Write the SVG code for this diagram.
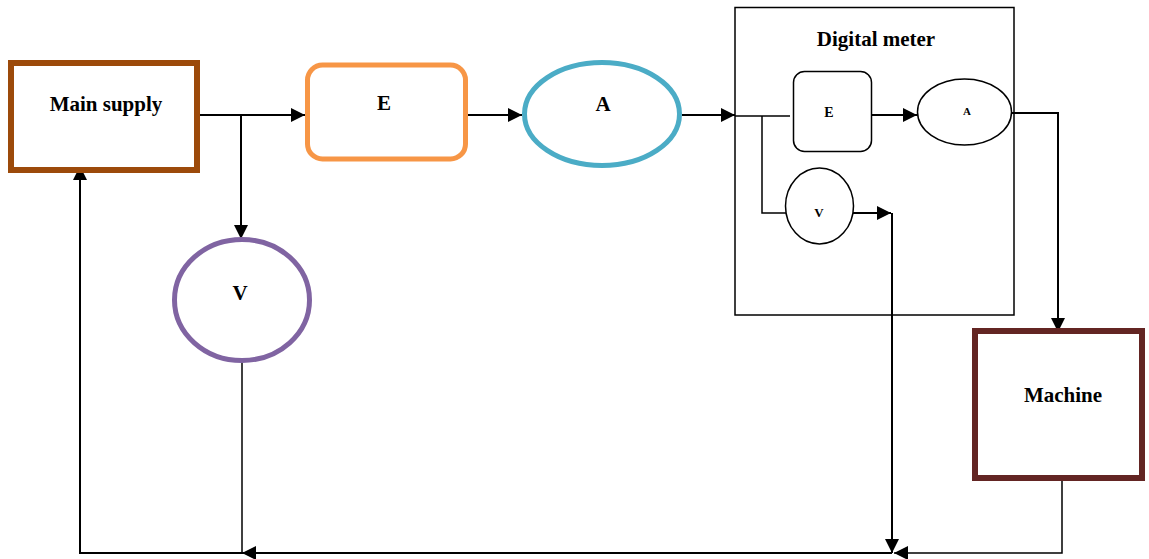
<svg xmlns="http://www.w3.org/2000/svg" width="1149" height="559" viewBox="0 0 1149 559">
<defs>
<marker id="ah" viewBox="0 0 10 10" refX="10" refY="5" markerWidth="14" markerHeight="14" markerUnits="userSpaceOnUse" orient="auto">
<path d="M0,0 L10,5 L0,10 Z" fill="#000"/>
</marker>
</defs>
<style>
text{font-family:"Liberation Serif","Times New Roman",serif;font-weight:bold;fill:#000;text-anchor:middle}
.c{fill:none;stroke:#000;stroke-width:2}
.t{fill:none;stroke:#000;stroke-width:1.5}
.a{marker-end:url(#ah)}
</style>
<rect width="1149" height="559" fill="#fff"/>
<g id="connectors">
<path class="c a" d="M197,115 H305"/>
<path class="c a" d="M241,115 V239"/>
<path class="c a" d="M466,115 H522"/>
<path class="c a" d="M682,115 H735"/>
<path class="t" d="M735,116 H790"/>
<path class="t" d="M762,116 V213 H786"/>
<path class="c a" d="M872,115 H917"/>
<path class="c a" d="M853,213 H891"/>
<path class="c a" d="M892,213 V553"/>
<path class="c a" d="M1012,113 H1058 V332"/>
<path class="t a" d="M1062,480 V553 H894"/>
<path class="c a" d="M892,553 H242"/>
<path class="t" d="M242,362 V553"/>
<path class="c a" d="M242,553 H80 V166"/>
</g>
<g id="main-supply">
<rect x="11" y="63" width="186" height="107" fill="#fff" stroke="#9C4A0A" stroke-width="6"/>
<text x="106" y="111" font-size="21">Main supply</text>
</g>
<g id="energy">
<rect x="307.5" y="65" width="158" height="94" rx="15" fill="#fff" stroke="#F79646" stroke-width="5"/>
<text x="384" y="110" font-size="21">E</text>
</g>
<g id="ammeter">
<ellipse cx="602" cy="114" rx="77.5" ry="51.5" fill="#fff" stroke="#4BACC6" stroke-width="5"/>
<text x="603" y="111" font-size="21">A</text>
</g>
<g id="voltmeter">
<ellipse cx="242" cy="300" rx="67.5" ry="60.5" fill="#fff" stroke="#8064A2" stroke-width="5"/>
<text x="240" y="300" font-size="21">V</text>
</g>
<g id="digital-meter">
<rect x="735" y="7.5" width="279" height="307.5" fill="none" stroke="#000" stroke-width="1.5"/>
<text x="876" y="46" font-size="21">Digital meter</text>
</g>
<g id="dm-energy">
<rect x="793.5" y="71.5" width="78" height="80" rx="11" fill="#fff" stroke="#000" stroke-width="1.5"/>
<text x="829" y="117" font-size="14">E</text>
</g>
<g id="dm-ammeter">
<ellipse cx="964.5" cy="112" rx="47" ry="33" fill="#fff" stroke="#000" stroke-width="1.5"/>
<text x="967" y="115" font-size="11">A</text>
</g>
<g id="dm-voltmeter">
<ellipse cx="819.5" cy="206" rx="34" ry="38" fill="#fff" stroke="#000" stroke-width="1.5"/>
<text x="819" y="217" font-size="13">V</text>
</g>
<g id="machine">
<rect x="975" y="331" width="167" height="147" fill="#fff" stroke="#632523" stroke-width="6"/>
<text x="1063" y="402" font-size="21">Machine</text>
</g>
</svg>
